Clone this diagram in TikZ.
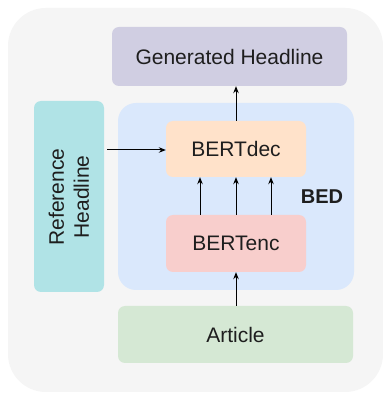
\documentclass[tikz,border=0pt]{standalone}
\usepackage{fontspec}
\setmainfont{Liberation Sans}
\usetikzlibrary{arrows.meta}
\definecolor{bgc}{HTML}{F5F5F5}
\definecolor{genc}{HTML}{D0CEE2}
\definecolor{bedc}{HTML}{DAE8FC}
\definecolor{decc}{HTML}{FFE2CA}
\definecolor{encc}{HTML}{F8CECC}
\definecolor{refc}{HTML}{B0E3E6}
\definecolor{artc}{HTML}{D5E8D4}
\definecolor{txtc}{HTML}{1E1E1E}
\begin{document}
\begin{tikzpicture}[x=1pt,y=1pt,
  box/.style={rounded corners=7pt,inner sep=0pt,text=txtc,font=\fontsize{21}{25}\selectfont},
  arr/.style={-{Stealth[length=7pt,width=5.5pt]},line width=1pt,black}]
\useasboundingbox (0,0) rectangle (383,394);
\fill[white] (0,0) rectangle (383,394);
\fill[bgc,rounded corners=38pt] (8,2) rectangle (383,386);
% BED container
\node[box,fill=bedc,rounded corners=18pt,minimum width=236pt,minimum height=187pt] (bed) at (236,197.5) {};
\node[text=txtc,font=\fontsize{20}{24}\selectfont\bfseries] (bedl) at (322,197) {BED};
% boxes
\node[box,fill=genc,minimum width=235pt,minimum height=59pt] (gen) at (229.5,337.5) {Generated Headline};
\node[box,fill=decc,minimum width=140pt,minimum height=56pt] (dec) at (236,245) {BERTdec};
\node[box,fill=encc,minimum width=140pt,minimum height=57pt] (enc) at (236,150.5) {BERTenc};
\node[box,fill=refc,minimum width=70pt,minimum height=191pt] (ref) at (69,197.5) {};
\node[text=txtc,font=\fontsize{21}{25}\selectfont,rotate=90,align=center] (refl) at (69,197) {Reference\\Headline};
\node[box,fill=artc,minimum width=235pt,minimum height=57pt] (art) at (235.5,59.5) {Article};
% arrows
\coordinate (reft) at (107,244);
\draw[arr] (reft) -- (dec.west |- reft);
\draw[arr] (dec.north) -- (gen.south -| dec.north);
\draw[arr] ([xshift=-36pt]enc.north) -- ([xshift=-36pt]dec.south);
\draw[arr] (enc.north) -- (dec.south);
\draw[arr] ([xshift=35pt]enc.north) -- ([xshift=35pt]dec.south);
\draw[arr] (art.north -| enc.south) -- (enc.south);
\end{tikzpicture}
\end{document}
